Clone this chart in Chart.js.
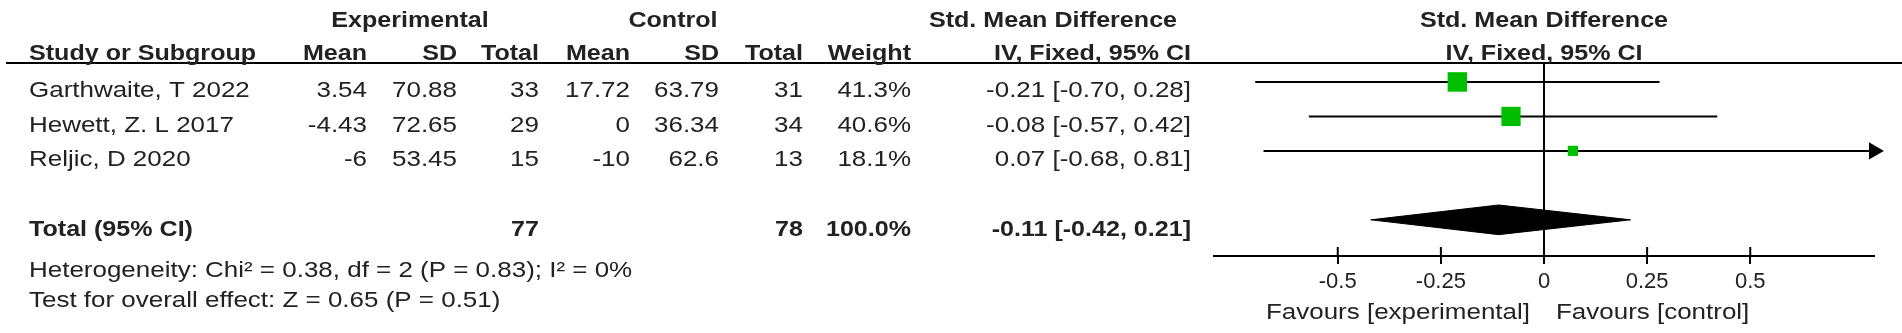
<!DOCTYPE html>
<html>
<head>
<meta charset="utf-8">
<script src="https://cdn.jsdelivr.net/npm/chart.js@4.4.1/dist/chart.umd.min.js"></script>
<style>
  html, body { margin: 0; padding: 0; background: #fff; }
  canvas { display: block; }
</style>
</head>
<body>
<canvas id="forest" width="1902" height="333"></canvas>
<script>
// values
const studies = ["Garthwaite, T 2022", "Hewett, Z. L 2017", "Reljic, D 2020"];
const expMean = [3.54, -4.43, -6];
const expSD = [70.88, 72.65, 53.45];
const expN = [33, 29, 15];
const ctlMean = [17.72, 0, -10];
const ctlSD = [63.79, 36.34, 62.6];
const ctlN = [31, 34, 13];
const weight = [41.3, 40.6, 18.1];
const smd = [-0.21, -0.08, 0.07];
const ciLow = [-0.70, -0.57, -0.68];
const ciHigh = [0.28, 0.42, 0.81];

const totalN = [77, 78];
const totalWeight = 100.0;
const totalSmd = -0.11;
const totalLow = -0.42;
const totalHigh = 0.21;

const xTicks = [-0.5, -0.25, 0, 0.25, 0.5];
const heterogeneity = "Heterogeneity: Chi\u00b2 = 0.38, df = 2 (P = 0.83); I\u00b2 = 0%";
const overallEffect = "Test for overall effect: Z = 0.65 (P = 0.51)";
const favoursLeft = "Favours [experimental]";
const favoursRight = "Favours [control]";

const X_MIN = -0.8, X_MAX = 0.8;
const TOTAL_ROW = 4;
const GREEN = "#00bf00";
const INK = "#222";

// the figure uses a tall narrow face with loose spacing
function hasFont(name) {
    const c = document.createElement("canvas").getContext("2d");
    c.font = "40px monospace";
    const a = c.measureText("Garthwaite 2022").width;
    c.font = '40px "' + name + '", monospace';
    return c.measureText("Garthwaite 2022").width !== a;
}
const NARROW = hasFont("Liberation Sans Narrow") && ("letterSpacing" in CanvasRenderingContext2D.prototype);
const FONT = NARROW ? '"Liberation Sans Narrow", "Liberation Sans", sans-serif' : '"Liberation Sans", Arial, sans-serif';
const LS = 3.7, LS_BOLD = 3.6;

// column anchors (right edges) of the table part
const col = { eMean: 367, eSD: 457, eN: 539, cMean: 630, cSD: 719, cN: 803, w: 911, ci: 1191 };

function fmtCI(e, lo, hi) {
    return e.toFixed(2) + " [" + lo.toFixed(2) + ", " + hi.toFixed(2) + "]";
}

function txt(ctx, s, x, y, align, bold) {
    ctx.save();
    ctx.font = (bold ? "bold " : "") + "22px " + FONT;
    ctx.fillStyle = INK;
    ctx.textAlign = align;
    ctx.textBaseline = "alphabetic";
    if (NARROW) {
        const ls = bold ? LS_BOLD : LS;
        ctx.letterSpacing = ls + "px";
        if (align === "right") x += ls;
        if (align === "center") x += ls / 2;
        ctx.fillText(s, x, y);
    } else {
        ctx.translate(x, y);
        ctx.scale(bold ? 1.14 : 1.18, 1);
        ctx.fillText(s, 0, 0);
    }
    ctx.restore();
}

// CI whiskers, one dataset each
const ciSets = studies.map((s, i) => {
    const hi = Math.min(ciHigh[i], X_MAX);
    const clipped = ciHigh[i] > X_MAX;
    return {
        label: s,
        data: [{ x: ciLow[i], y: i }, { x: hi, y: i }],
        showLine: true,
        borderColor: "#000",
        borderWidth: 2,
        pointRadius: clipped ? [0, 8] : 0,
        pointStyle: "triangle",
        rotation: 90,
        pointBackgroundColor: "#000",
        pointBorderColor: "#000",
        clip: false,
        order: 2,
    };
});

const tablePlugin = {
    id: "table",
    beforeDraw(chart) {
        if (NARROW) chart.ctx.letterSpacing = LS + "px";
    },
    afterDraw(chart) {
        const ctx = chart.ctx;
        const area = chart.chartArea;
        const ys = chart.scales.y;
        const xs = chart.scales.x;
        const zeroX = xs.getPixelForValue(0);

        // header rule
        ctx.save();
        ctx.strokeStyle = "#000";
        ctx.lineWidth = 2;
        ctx.beginPath();
        ctx.moveTo(6, area.top);
        ctx.lineTo(1902, area.top);
        ctx.stroke();
        // upper part of tick marks
        xTicks.forEach(v => {
            const px = xs.getPixelForValue(v);
            ctx.beginPath();
            ctx.moveTo(px, area.bottom - 9);
            ctx.lineTo(px, area.bottom);
            ctx.stroke();
        });
        ctx.restore();

        // headers
        txt(ctx, "Experimental", 410, 27, "center", true);
        txt(ctx, "Control", 673, 27, "center", true);
        txt(ctx, "Std. Mean Difference", 1053, 27, "center", true);
        txt(ctx, "Std. Mean Difference", zeroX, 27, "center", true);
        const hy = 60;
        txt(ctx, "Study or Subgroup", 29, hy, "left", true);
        txt(ctx, "Mean", col.eMean, hy, "right", true);
        txt(ctx, "SD", col.eSD, hy, "right", true);
        txt(ctx, "Total", col.eN, hy, "right", true);
        txt(ctx, "Mean", col.cMean, hy, "right", true);
        txt(ctx, "SD", col.cSD, hy, "right", true);
        txt(ctx, "Total", col.cN, hy, "right", true);
        txt(ctx, "Weight", col.w, hy, "right", true);
        txt(ctx, "IV, Fixed, 95% CI", col.ci, hy, "right", true);
        txt(ctx, "IV, Fixed, 95% CI", zeroX, hy, "center", true);

        // study rows
        studies.forEach((s, i) => {
            const y = ys.getPixelForValue(i) + 15.5;
            txt(ctx, s, 29, y, "left", false);
            txt(ctx, String(expMean[i]), col.eMean, y, "right", false);
            txt(ctx, String(expSD[i]), col.eSD, y, "right", false);
            txt(ctx, String(expN[i]), col.eN, y, "right", false);
            txt(ctx, String(ctlMean[i]), col.cMean, y, "right", false);
            txt(ctx, String(ctlSD[i]), col.cSD, y, "right", false);
            txt(ctx, String(ctlN[i]), col.cN, y, "right", false);
            txt(ctx, weight[i].toFixed(1) + "%", col.w, y, "right", false);
            txt(ctx, fmtCI(smd[i], ciLow[i], ciHigh[i]), col.ci, y, "right", false);
        });

        // total row
        const ty = ys.getPixelForValue(TOTAL_ROW) + 16;
        txt(ctx, "Total (95% CI)", 29, ty, "left", true);
        txt(ctx, String(totalN[0]), col.eN, ty, "right", true);
        txt(ctx, String(totalN[1]), col.cN, ty, "right", true);
        txt(ctx, totalWeight.toFixed(1) + "%", col.w, ty, "right", true);
        txt(ctx, fmtCI(totalSmd, totalLow, totalHigh), col.ci, ty, "right", true);

        txt(ctx, heterogeneity, 29, area.bottom + 21, "left", false);
        txt(ctx, overallEffect, 29, area.bottom + 51, "left", false);

        txt(ctx, favoursLeft, zeroX - 14, area.bottom + 63, "right", false);
        txt(ctx, favoursRight, zeroX + 12, area.bottom + 63, "left", false);
    },
};

const diamondH = 0.43;

new Chart(document.getElementById("forest"), {
    type: "scatter",
    data: {
        datasets: [
            {
                label: "SMD",
                data: studies.map((s, i) => ({ x: smd[i], y: i })),
                pointStyle: "rect",
                pointRadius: weight.map(w => (3 + 0.4 * w) / Math.SQRT2),
                pointBackgroundColor: GREEN,
                pointBorderWidth: 0,
                order: 0,
            },
            ...ciSets,
            {
                label: "Total",
                data: [
                    { x: totalLow, y: TOTAL_ROW },
                    { x: totalSmd, y: TOTAL_ROW - diamondH },
                    { x: totalHigh, y: TOTAL_ROW },
                    { x: totalSmd, y: TOTAL_ROW + diamondH },
                    { x: totalLow, y: TOTAL_ROW },
                ],
                showLine: true,
                fill: "shape",
                backgroundColor: "#000",
                borderColor: "#000",
                borderWidth: 1,
                pointRadius: 0,
                order: 1,
            },
        ],
    },
    options: {
        responsive: false,
        animation: false,
        events: [],
        layout: { padding: { left: 1214, right: 28, top: 63, bottom: 0 } },
        plugins: {
            legend: { display: false },
            tooltip: { enabled: false },
        },
        scales: {
            x: {
                type: "linear",
                min: X_MIN,
                max: X_MAX,
                afterBuildTicks: s => { s.ticks = xTicks.map(v => ({ value: v })); },
                afterFit: s => { s.height = 77; },
                ticks: {
                    color: INK,
                    font: { family: FONT, size: 22 },
                    padding: 5,
                    autoSkip: false,
                    maxRotation: 0,
                    callback: v => String(v),
                },
                grid: {
                    color: c => (c.tick && c.tick.value === 0 ? "#000" : "rgba(0,0,0,0)"),
                    tickColor: "#000",
                    tickLength: 8,
                    lineWidth: 2,
                },
                border: { color: "#000", width: 2 },
            },
            y: {
                type: "linear",
                display: false,
                reverse: true,
                min: -0.55,
                max: 5.05,
            },
        },
    },
    plugins: [tablePlugin],
});
</script>
</body>
</html>
